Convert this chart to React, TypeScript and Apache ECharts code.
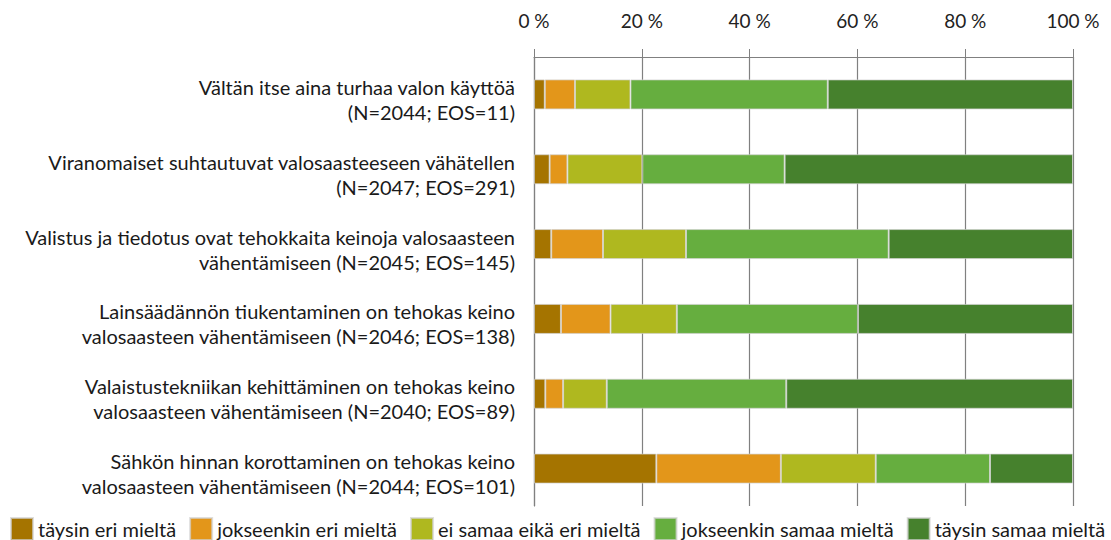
import React, { useEffect, useRef } from "react";
import * as echarts from "echarts";

const categories = [
  "Vältän itse aina turhaa valon käyttöä\n(N=2044; EOS=11)",
  "Viranomaiset suhtautuvat valosaasteeseen vähätellen\n(N=2047; EOS=291)",
  "Valistus ja tiedotus ovat tehokkaita keinoja valosaasteen\nvähentämiseen (N=2045; EOS=145)",
  "Lainsäädännön tiukentaminen on tehokas keino\nvalosaasteen vähentämiseen (N=2046; EOS=138)",
  "Valaistustekniikan kehittäminen on tehokas keino\nvalosaasteen vähentämiseen (N=2040; EOS=89)",
  "Sähkön hinnan korottaminen on tehokas keino\nvalosaasteen vähentämiseen (N=2044; EOS=101)",
];

const seriesNames = [
  "täysin eri mieltä",
  "jokseenkin eri mieltä",
  "ei samaa eikä eri mieltä",
  "jokseenkin samaa mieltä",
  "täysin samaa mieltä",
];

const taysinEri = [2.0, 2.9, 3.2, 5.0, 2.1, 22.7];
const jokseenkinEri = [5.6, 3.3, 9.6, 9.2, 3.3, 23.1];
const eiSamaaEikaEri = [10.3, 13.9, 15.4, 12.3, 8.1, 17.6];
const jokseenkinSamaa = [36.6, 26.4, 37.6, 33.6, 33.3, 21.2];
const taysinSamaa = [45.5, 53.5, 34.2, 39.9, 53.2, 15.4];

const seriesValues = [taysinEri, jokseenkinEri, eiSamaaEikaEri, jokseenkinSamaa, taysinSamaa];
const colors = ["#A57400", "#E3961A", "#AFB81F", "#66AE3F", "#46812D"];
const xTicks = [0, 20, 40, 60, 80, 100];

const FONT = "Lato, 'Noto Sans', sans-serif";

export default function App() {
  const ref = useRef<HTMLDivElement>(null);
  useEffect(() => {
    if (!ref.current) return;
    const chart = echarts.init(ref.current, undefined, { renderer: "svg" });
    chart.setOption({
      animation: false,
      textStyle: { fontFamily: FONT },
      grid: { left: 534, right: 38, top: 57, bottom: 34, containLabel: false },
      legend: {
        left: 10,
        top: 517,
        width: 1100,
        padding: 0,
        itemWidth: 22,
        itemHeight: 22,
        itemGap: 13,
        icon: "rect",
        textStyle: { fontFamily: FONT, fontSize: 20, color: "#1a1a1a" },
        data: seriesNames,
      },
      xAxis: {
        type: "value",
        position: "top",
        min: xTicks[0],
        max: xTicks[xTicks.length - 1],
        interval: 20,
        axisLine: { show: true, lineStyle: { color: "#808080", width: 1 } },
        axisTick: { show: true, length: 8, lineStyle: { color: "#808080", width: 1 } },
        splitLine: { show: true, lineStyle: { color: "#808080", width: 1.2 } },
        axisLabel: {
          formatter: "{value} %",
          fontFamily: FONT,
          fontSize: 19,
          color: "#222",
          margin: 27,
        },
      },
      yAxis: {
        type: "category",
        inverse: true,
        data: categories,
        axisLine: { show: true, lineStyle: { color: "#808080", width: 1.2 } },
        axisTick: { show: false },
        axisLabel: {
          margin: 19,
          align: "right",
          formatter: (v: string) =>
            "{s| }\n" + v.split("\n").map((l) => "{a|" + l + "}").join("\n"),
          rich: {
            s: { fontSize: 4, lineHeight: 10, height: 10 },
            a: { fontFamily: FONT, fontSize: 20, color: "#1a1a1a", lineHeight: 25 },
          },
        },
      },
      series: seriesNames.map((name, i) => ({
        name,
        type: "bar",
        stack: "total",
        barWidth: 30,
        data: seriesValues[i],
        itemStyle: {
          color: colors[i],
          borderColor: "rgba(210,210,210,0.7)",
          borderWidth: 1,
        },
      })),
    });
    return () => chart.dispose();
  }, []);
  return (
    <div
      ref={ref}
      style={{ position: "fixed", left: 0, top: 0, width: 1111, height: 540, background: "#fff" }}
    />
  );
}
